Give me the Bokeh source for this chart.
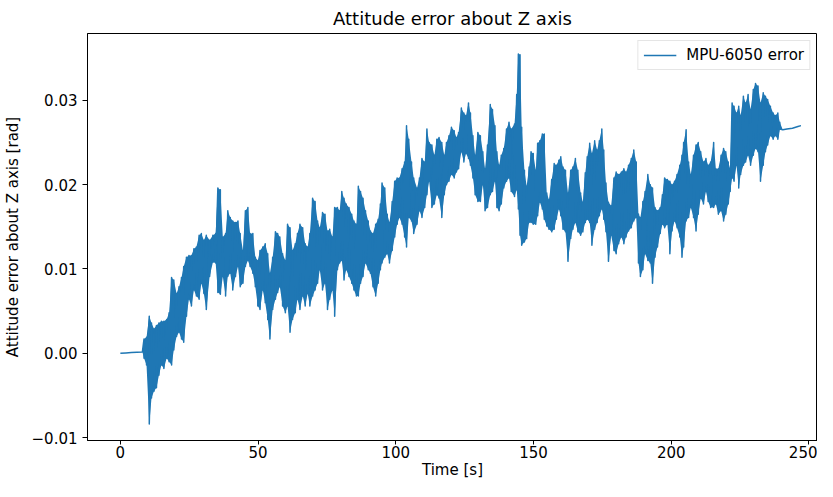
from bokeh.plotting import figure
from bokeh.models import Range1d, FixedTicker, CustomJSTickFormatter, Legend, LegendItem
from bokeh.embed import file_html
from bokeh.resources import INLINE

# ---- data (time in s, error envelope in rad) ----
time_s = [
    0, 2, 4, 6, 8,
    8.6, 9.5, 10.5, 11.3, 12.2, 13.1, 14.0, 14.9, 15.8, 16.8, 17.7, 18.6, 19.4, 20.4,
    21.3, 22.2, 23.0, 24.0, 24.9, 25.8, 26.7, 27.6, 28.6, 29.4, 30.3, 31.2, 32.4, 33.6,
    34.6, 35.4, 36.3, 37.2, 38.2, 39.0, 39.9, 40.8, 41.8, 42.7, 43.5, 44.5, 45.4, 46.3,
    47.1, 48.1, 49.0, 49.9, 50.7, 51.7, 52.6, 53.5, 54.3, 55.3, 56.3, 57.1, 57.9, 58.9,
    59.9, 60.7, 61.6, 62.5, 63.5, 64.3, 65.2, 66.2, 67.1, 68.0, 68.8, 69.8,
    70.7, 71.6, 72.4, 73.4, 74.3, 75.2, 76.0, 77.0, 77.8, 78.8, 79.6, 80.4, 81.2, 82.0,
    83.0, 84.0, 84.8, 85.7, 86.4, 87.2, 88.1, 89.0, 90.0, 90.8, 91.7, 92.7, 93.6, 94.4,
    95.0, 96.0, 96.9, 97.7, 98.7, 99.6, 100.5, 101.3, 102.3, 103.2, 103.9, 104.7, 105.7, 106.5,
    107.7, 108.6, 109.5, 110.5, 111.3, 112.1, 113.1, 114.0, 114.9, 115.7, 116.7, 117.6,
    118.4, 119.3, 120.2, 121.2, 122.0, 122.8, 123.8, 124.7, 125.5, 126.4, 127.1, 128.0,
    128.8, 129.8, 130.7, 131.6, 132.4, 133.3, 134.3, 135.1, 136.0, 136.7, 137.5, 138.3,
    139.2, 140.2, 141.1, 141.9,
    143.1, 143.9, 144.5, 145.1, 145.7, 146.7, 147.5, 148.4, 149.1, 149.9, 150.8, 151.5,
    152.3, 153.2, 153.9, 154.8, 155.6, 156.6, 157.5, 158.3, 159.2, 159.9, 160.7, 161.6,
    162.5, 163.5, 164.3, 165.2, 166.1, 167.1, 167.9, 168.8, 169.5, 170.4, 171.2, 172.2,
    173.1, 173.9, 174.8, 175.5, 176.3, 177.2, 178.2,
    179.2, 180.0, 180.9, 181.9, 182.8, 183.6, 184.5, 185.5, 186.4, 187.3, 188.1, 188.8,
    189.7, 190.5, 191.5, 192.4, 193.2, 194.1, 195.0, 196.0, 196.8, 197.6, 198.6, 199.5,
    200.3, 201.2, 202.1, 203.1, 203.9, 204.5, 205.4, 206.3, 207.1, 208.1, 209.0, 209.8,
    210.7, 211.7, 212.6, 213.4, 214.3,
    215.4, 216.2, 217.1, 218.1, 219.0, 219.8, 220.7, 221.4, 222.1, 222.8, 223.7, 224.5,
    225.2, 226.2, 227.0, 227.9, 228.8, 229.8, 230.6, 231.5, 232.4, 233.4, 234.2, 235.0,
    236.0, 237.0, 237.8, 238.7, 239.4, 240.5, 242.0, 244.0, 246.0, 247.1,
]

err_upper = [
    0.0000, 0.00004, 0.00008, 0.00012, 0.00016,
    0.0017, 0.0019, 0.0044, 0.0036, 0.0029, 0.0033, 0.0036, 0.0038, 0.0038, 0.0040, 0.0048, 0.0090, 0.0087, 0.0071,
    0.0079, 0.0090, 0.0103, 0.0114, 0.0116, 0.0116, 0.0124, 0.0126, 0.0140, 0.0142, 0.0134, 0.0140, 0.0134, 0.0140,
    0.0142, 0.0196, 0.0194, 0.0138, 0.0142, 0.0169, 0.0161, 0.0157, 0.0155, 0.0157, 0.0142, 0.0122, 0.0169, 0.0173,
    0.0142, 0.0142, 0.0114, 0.0110, 0.0122, 0.0126, 0.0130, 0.0118, 0.0095, 0.0114, 0.0144, 0.0142, 0.0138, 0.0118,
    0.0110, 0.0153, 0.0149, 0.0122, 0.0130, 0.0142, 0.0153, 0.0149, 0.0130, 0.0126, 0.0142, 0.0184,
    0.0180, 0.0157, 0.0149, 0.0167, 0.0165, 0.0145, 0.0147, 0.0138, 0.0173, 0.0173, 0.0169, 0.0192, 0.0184, 0.0177,
    0.0173, 0.0165, 0.0157, 0.0153, 0.0198, 0.0192, 0.0184, 0.0169, 0.0157, 0.0145, 0.0142, 0.0153, 0.0159, 0.0177,
    0.0202, 0.0196, 0.0165, 0.0155, 0.0180, 0.0204, 0.0208, 0.0208, 0.0219, 0.0227, 0.0270, 0.0254, 0.0227, 0.0208,
    0.0196, 0.0208, 0.0231, 0.0227, 0.0266, 0.0250, 0.0247, 0.0235, 0.0254, 0.0256, 0.0250, 0.0235,
    0.0250, 0.0258, 0.0268, 0.0264, 0.0256, 0.0262, 0.0291, 0.0285, 0.0282, 0.0297, 0.0285, 0.0258,
    0.0235, 0.0262, 0.0258, 0.0239, 0.0219, 0.0247, 0.0295, 0.0289, 0.0270, 0.0239, 0.0223, 0.0235,
    0.0243, 0.0266, 0.0274, 0.0266,
    0.0272, 0.0307, 0.0355, 0.0354, 0.0268, 0.0217, 0.0198, 0.0221, 0.0239, 0.0237, 0.0217, 0.0249,
    0.0252, 0.0260, 0.0260, 0.0190, 0.0182, 0.0206, 0.0225, 0.0223, 0.0229, 0.0233, 0.0221, 0.0217,
    0.0190, 0.0217, 0.0221, 0.0231, 0.0217, 0.0190, 0.0179, 0.0214, 0.0233, 0.0249, 0.0237, 0.0252,
    0.0241, 0.0252, 0.0266, 0.0241, 0.0202, 0.0179, 0.0175,
    0.0208, 0.0215, 0.0212, 0.0215, 0.0219, 0.0215, 0.0223, 0.0231, 0.0241, 0.0227, 0.0165, 0.0161,
    0.0180, 0.0192, 0.0212, 0.0200, 0.0196, 0.0173, 0.0169, 0.0173, 0.0188, 0.0208, 0.0206, 0.0204,
    0.0200, 0.0204, 0.0212, 0.0223, 0.0235, 0.0250, 0.0265, 0.0227, 0.0212, 0.0235, 0.0247, 0.0250,
    0.0239, 0.0227, 0.0231, 0.0223, 0.0227,
    0.0250, 0.0219, 0.0219, 0.0235, 0.0243, 0.0239, 0.0227, 0.0219, 0.0297, 0.0293, 0.0285, 0.0293,
    0.0282, 0.0305, 0.0297, 0.0307, 0.0289, 0.0313, 0.0320, 0.0317, 0.0297, 0.0309, 0.0305, 0.0301,
    0.0293, 0.0285, 0.0282, 0.0285, 0.0274, 0.0265, 0.0266, 0.0267, 0.0269, 0.0270,
]

err_lower = [
    0.0000, 0.00004, 0.00008, 0.00012, 0.00016,
    -0.0006, -0.0014, -0.0084, -0.0053, -0.0045, -0.0041, -0.0026, -0.0014, -0.0018, -0.0006, -0.0010, -0.0014, 0.0004, 0.0020,
    0.0025, 0.0017, 0.0013, 0.0044, 0.0064, 0.0056, 0.0075, 0.0068, 0.0064, 0.0083, 0.0071, 0.0052, 0.0091, 0.0108,
    0.0107, 0.0072, 0.0070, 0.0091, 0.0068, 0.0091, 0.0095, 0.0075, 0.0091, 0.0103, 0.0079, 0.0083, 0.0103, 0.0110,
    0.0103, 0.0095, 0.0079, 0.0056, 0.0052, 0.0075, 0.0060, 0.0040, 0.0017, 0.0052, 0.0064, 0.0072, 0.0079, 0.0056,
    0.0048, 0.0056, 0.0025, 0.0040, 0.0048, 0.0064, 0.0052, 0.0068, 0.0056, 0.0071, 0.0056, 0.0068,
    0.0075, 0.0083, 0.0099, 0.0075, 0.0083, 0.0052, 0.0064, 0.0075, 0.0044, 0.0099, 0.0107, 0.0110, 0.0087, 0.0099,
    0.0091, 0.0083, 0.0075, 0.0068, 0.0068, 0.0083, 0.0091, 0.0107, 0.0099, 0.0095, 0.0079, 0.0068, 0.0083, 0.0099,
    0.0107, 0.0114, 0.0118, 0.0107, 0.0122, 0.0138, 0.0153, 0.0161, 0.0153, 0.0138, 0.0126, 0.0161, 0.0157, 0.0142,
    0.0153, 0.0169, 0.0161, 0.0173, 0.0188, 0.0204, 0.0173, 0.0177, 0.0188, 0.0184, 0.0161, 0.0188,
    0.0200, 0.0204, 0.0212, 0.0208, 0.0215, 0.0219, 0.0239, 0.0227, 0.0237, 0.0231, 0.0223, 0.0208,
    0.0188, 0.0180, 0.0180, 0.0200, 0.0169, 0.0173, 0.0188, 0.0192, 0.0204, 0.0173, 0.0169, 0.0177,
    0.0196, 0.0204, 0.0208, 0.0192,
    0.0186, 0.0194, 0.0171, 0.0140, 0.0128, 0.0132, 0.0136, 0.0155, 0.0155, 0.0153, 0.0153, 0.0163,
    0.0179, 0.0171, 0.0159, 0.0151, 0.0147, 0.0144, 0.0147, 0.0159, 0.0171, 0.0163, 0.0147, 0.0144,
    0.0109, 0.0136, 0.0147, 0.0155, 0.0144, 0.0140, 0.0144, 0.0155, 0.0159, 0.0155, 0.0128, 0.0147,
    0.0155, 0.0163, 0.0171, 0.0159, 0.0144, 0.0109, 0.0140,
    0.0122, 0.0118, 0.0130, 0.0138, 0.0130, 0.0138, 0.0145, 0.0149, 0.0157, 0.0161, 0.0107, 0.0091,
    0.0099, 0.0118, 0.0110, 0.0107, 0.0083, 0.0114, 0.0126, 0.0142, 0.0153, 0.0149, 0.0153, 0.0118,
    0.0145, 0.0157, 0.0149, 0.0138, 0.0114, 0.0126, 0.0157, 0.0161, 0.0173, 0.0161, 0.0145, 0.0165,
    0.0184, 0.0177, 0.0192, 0.0180, 0.0173,
    0.0173, 0.0177, 0.0165, 0.0169, 0.0157, 0.0165, 0.0177, 0.0192, 0.0208, 0.0204, 0.0223, 0.0196,
    0.0212, 0.0223, 0.0227, 0.0235, 0.0223, 0.0235, 0.0243, 0.0239, 0.0204, 0.0223, 0.0239, 0.0247,
    0.0258, 0.0254, 0.0258, 0.0254, 0.0266, 0.0265, 0.0266, 0.0267, 0.0269, 0.0270,
]

x_ticks = [0, 50, 100, 150, 200, 250]
y_ticks = [-0.01, 0.0, 0.01, 0.02, 0.03]

title_text = "Attitude error about Z axis"
x_label = "Time [s]"
y_label = "Attitude error about Z axis [rad]"
series_label = "MPU-6050 error"

assert len(time_s) == len(err_upper) == len(err_lower)

# ---- zig-zag trace through the noise envelope ----
zig_x, zig_y = [], []
for t, hi, lo in zip(time_s, err_upper, err_lower):
    zig_x += [t, t]
    zig_y += [hi, lo]

FONT = "DejaVu Sans"
BLUE = "#1f77b4"

p = figure(width=817, height=481, output_backend="svg", toolbar_location=None,
           x_range=Range1d(-11.93, 253.1), y_range=Range1d(-0.01035, 0.03793),
           min_border_left=84, min_border_right=0, min_border_top=33, min_border_bottom=38)

p.title.text = title_text
p.title.text_font = FONT
p.title.text_font_size = "18px"
p.title.text_font_style = "normal"
p.title.text_color = "black"
p.title.align = "center"
p.title.standoff = 9

p.background_fill_color = "white"
p.border_fill_color = "white"
p.outline_line_color = "black"
p.outline_line_width = 1
p.outline_line_alpha = 1
p.xgrid.visible = False
p.ygrid.visible = False

p.varea(x=time_s, y1=err_lower, y2=err_upper, fill_color=BLUE, fill_alpha=1)
trace = p.line(zig_x, zig_y, line_color=BLUE, line_width=1.5, line_join="round")

for ax in (p.xaxis[0], p.yaxis[0]):
    ax.axis_line_color = "black"
    ax.major_tick_line_color = "black"
    ax.major_tick_out = 5
    ax.major_tick_in = 0
    ax.minor_tick_line_color = None
    ax.major_label_text_font = FONT
    ax.major_label_text_font_size = "15px"
    ax.major_label_text_color = "black"
    ax.axis_label_text_font = FONT
    ax.axis_label_text_font_size = "15px"
    ax.axis_label_text_font_style = "normal"
    ax.axis_label_text_color = "black"

p.xaxis.ticker = FixedTicker(ticks=x_ticks)
p.yaxis.ticker = FixedTicker(ticks=y_ticks)
p.yaxis.formatter = CustomJSTickFormatter(code="""
    const v = Math.abs(tick) < 1e-9 ? 0 : tick;
    return (v < 0 ? '\\u2212' : '') + Math.abs(v).toFixed(2);
""")
p.xaxis.axis_label = x_label
p.yaxis.axis_label = y_label
p.xaxis.major_tick_out = 4
p.xaxis.major_label_standoff = 1
p.xaxis.axis_label_standoff = 0
p.yaxis.major_label_standoff = 5
p.yaxis.axis_label_standoff = 7

legend = Legend(items=[LegendItem(label=series_label, renderers=[trace])],
                location="top_right", margin=7, padding=5, spacing=0,
                glyph_width=33, glyph_height=18, label_height=18, label_standoff=10,
                label_text_font=FONT, label_text_font_size="15px", label_text_color="black",
                border_line_color="#cccccc", border_line_width=1,
                background_fill_color="white", background_fill_alpha=0.8)
p.add_layout(legend)

open("out.html", "w").write(file_html(p, INLINE))
